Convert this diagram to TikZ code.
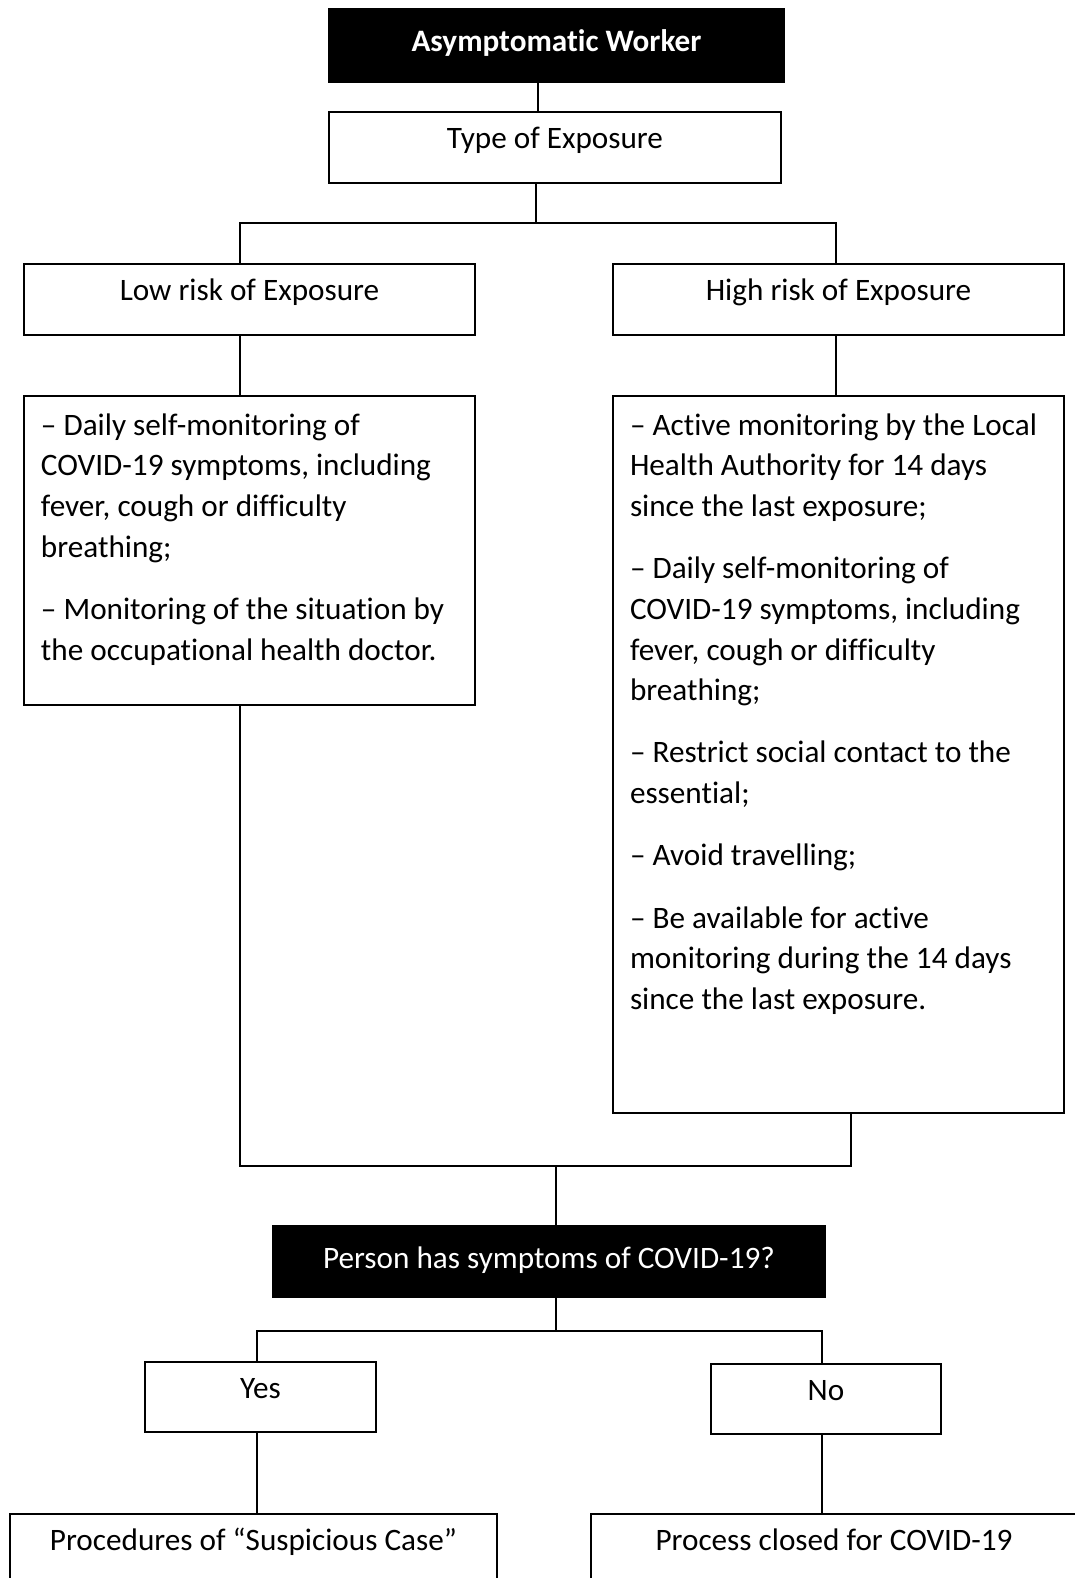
\documentclass[tikz,border=0pt]{standalone}
\usepackage{fontspec}
\setmainfont{Carlito}[Ligatures={TeX,NoCommon}]
\usetikzlibrary{calc}

% fixed size box, text set from the top
\newcommand{\listtext}[3]{%
    \parbox[c][#1][t]{#2}{\fontsize{15.6pt}{20.35pt}\selectfont\raggedright\leftskip=8.5pt
        \rule{0pt}{19.5pt}\setlength{\parskip}{10.75pt}#3}}

\begin{document}
\begin{tikzpicture}[
        x=0.5pt, y=-0.5pt,
        every node/.style={font=\fontsize{15.6pt}{18pt}\selectfont},
        link/.style={line width=1pt},
        plain box/.style={draw, line width=1pt, inner sep=0pt, text height=10pt, text depth=9pt},
        dark box/.style={plain box, fill=black, text=white, text height=11pt, text depth=4.5pt},
        list box/.style={draw, line width=1pt, inner sep=0pt}
    ]
    \useasboundingbox (0,0) rectangle (1075,1578);

    \node[dark box, minimum width=227.5pt, minimum height=36.5pt] (worker) at (556.5,45.5) {\bfseries Asymptomatic Worker};
    \node[plain box, minimum width=226pt, minimum height=35.5pt] (type) at (555,147.5) {Type of Exposure};
    \node[plain box, minimum width=225.5pt, minimum height=35.5pt] (low) at (249.5,299.5) {Low risk of Exposure};
    \node[plain box, minimum width=225.5pt, minimum height=35.5pt] (high) at (838.5,299.5) {High risk of Exposure};

    \node[list box] (lowlist) at (249.5,550.5) {\listtext{154.5pt}{225.5pt}{%
        -- Daily self-monitoring of\\
        COVID-19 symptoms, including\\
        fever, cough or difficulty\\
        breathing;\par
        -- Monitoring of the situation by\\
        the occupational health doctor.}};
    \node[list box] (highlist) at (838.5,754.5) {\listtext{358.5pt}{225.5pt}{%
        -- Active monitoring by the Local\\
        Health Authority for 14 days\\
        since the last exposure;\par
        -- Daily self-monitoring of\\
        COVID-19 symptoms, including\\
        fever, cough or difficulty\\
        breathing;\par
        -- Restrict social contact to the\\
        essential;\par
        -- Avoid travelling;\par
        -- Be available for active\\
        monitoring during the 14 days\\
        since the last exposure.}};

    \node[dark box, minimum width=276pt, minimum height=35.5pt] (person) at (549,1261.5) {Person has symptoms of COVID-19?};
    \node[plain box, minimum width=115.5pt, minimum height=35pt] (yes) at (260.5,1397) {Yes};
    \node[plain box, minimum width=115pt, minimum height=35pt] (no) at (826,1399) {No};
    \node[plain box, minimum width=243.5pt, minimum height=35.5pt] (suspect) at (253.5,1549.5) {Procedures of ``Suspicious Case''};
    \node[plain box, minimum width=243pt, minimum height=35.5pt] (closed) at (834,1549.5) {Process closed for COVID-19};

    % columns and junctions of the connectors
    \coordinate (stem) at (538,0);
    \coordinate (fork) at (536,223);
    \coordinate (lowcol) at (240,0);
    \coordinate (highcol) at (836,0);
    \coordinate (sidecol) at (851,0);
    \coordinate (join) at (556,1166);
    \coordinate (fork2) at (556,1331);
    \coordinate (yescol) at (257,0);
    \coordinate (nocol) at (822,0);

    \draw[link] (worker.south -| stem) -- (type.north -| stem);
    \draw[link] (type.south -| fork) -- (fork);
    \draw[link] (low.north -| lowcol) |- (fork) -| (high.north -| highcol);
    \foreach \a/\b/\c in {low/lowlist/lowcol, high/highlist/highcol, yes/suspect/yescol, no/closed/nocol}
        \draw[link] (\a.south -| \c) -- (\b.north -| \c);
    \draw[link] (lowlist.south -| lowcol) |- (join) -| (highlist.south -| sidecol);
    \draw[link] (join) -- (person.north -| join);
    \draw[link] (person.south -| fork2) -- (fork2);
    \draw[link] (yes.north -| yescol) |- (fork2) -| (no.north -| nocol);
\end{tikzpicture}
\end{document}
